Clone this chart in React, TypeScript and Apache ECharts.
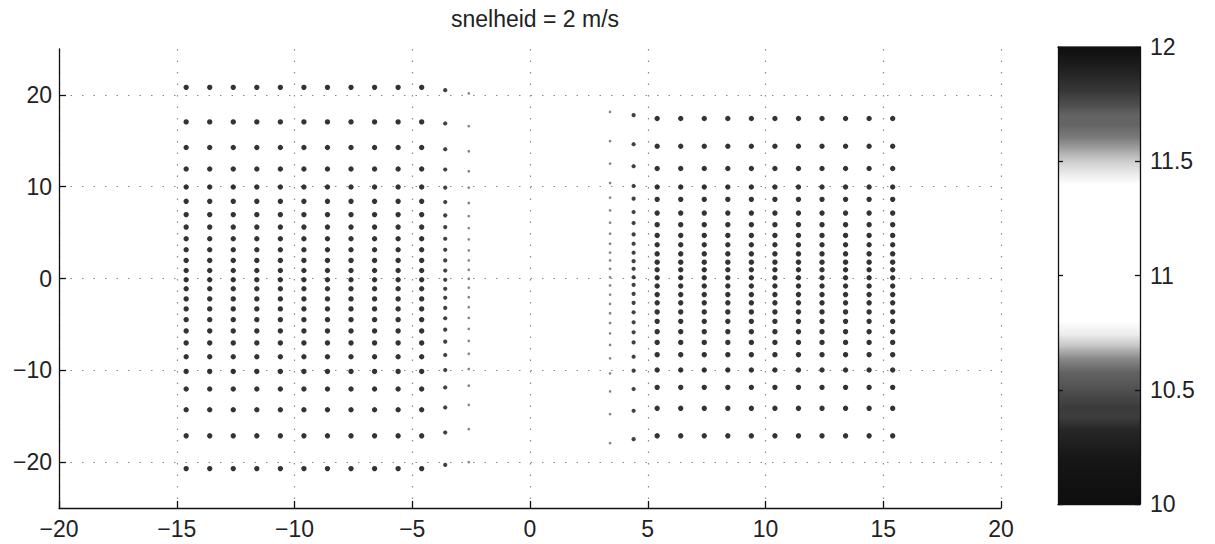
import React, { useEffect, useRef } from "react";
import * as echarts from "echarts";

const TITLE = "snelheid = 2 m/s";
const Y_TICKS = [-20, -10, 0, 10, 20];
const CB_TICKS = [10, 10.5, 11, 11.5, 12];

// left block
const LEFT_MAIN_X = [-14.6, -13.6, -12.6, -11.6, -10.6, -9.6, -8.6, -7.6, -6.6, -5.6, -4.6];
const LEFT_MAIN_Y = [20.82, 17.06, 14.27, 11.93, 9.97, 8.41, 6.96, 5.6, 4.33, 3.13, 1.97, 0.87, -0.14, -1.12, -2.22, -3.31, -4.48, -5.71, -7.02, -8.52, -10.12, -12.04, -14.3, -17.14, -20.71];
const LEFT_MID_X = -3.6;
const LEFT_MID_Y = [20.52, 16.89, 14.08, 11.87, 9.9, 8.33, 6.88, 5.6, 4.33, 3.13, 1.97, 0.87, -0.14, -1.12, -2.1, -3.2, -4.33, -5.57, -6.88, -8.33, -9.97, -11.87, -14.05, -16.78, -20.3];
const LEFT_EDGE_X = -2.6;
const LEFT_EDGE_Y = [20.16, 16.59, 13.86, 11.68, 9.9, 8.22, 6.8, 5.49, 4.26, 3.06, 1.97, 0.95, -0.03, -1.0, -2.04, -3.13, -4.29, -5.49, -6.8, -8.2, -9.86, -11.68, -13.76, -16.41, -20.0];

// right block
const RIGHT_MAIN_X = [5.4, 6.4, 7.4, 8.4, 9.4, 10.4, 11.4, 12.4, 13.4, 14.4, 15.4];
const RIGHT_MAIN_Y = [17.43, 14.41, 11.98, 9.97, 8.62, 7.13, 5.86, 4.69, 3.68, 2.69, 1.78, 0.95, 0.08, -0.82, -1.75, -2.65, -3.64, -4.67, -5.79, -6.96, -8.3, -9.97, -11.86, -14.14, -17.14];
const RIGHT_MID_X = 4.4;
const RIGHT_MID_Y = [17.79, 14.63, 12.23, 10.08, 8.7, 7.24, 6.04, 4.8, 3.79, 2.81, 1.89, 1.06, 0.14, -0.69, -1.67, -2.65, -3.68, -4.77, -5.86, -6.96, -8.52, -10.04, -12.04, -14.41, -17.5];
const RIGHT_EDGE_X = 3.4;
const RIGHT_EDGE_Y = [18.15, 14.96, 12.52, 10.4, 8.81, 7.42, 6.08, 4.88, 3.79, 2.81, 1.97, 1.06, 0.14, -0.76, -1.75, -2.76, -3.79, -4.85, -5.97, -7.24, -8.7, -10.34, -12.3, -14.77, -17.94];

// colour bar: [value, grey level]
const CB_VALUES = [10.0, 10.2, 10.33, 10.38, 10.42, 10.5, 10.58, 10.64, 10.69, 10.74, 10.8, 11.4, 11.45, 11.5, 11.55, 11.6, 11.66, 11.7, 11.74, 11.8, 11.9, 12.0];
const CB_GREYS = [14, 22, 40, 62, 58, 80, 100, 140, 195, 235, 255, 255, 232, 205, 165, 125, 100, 100, 80, 58, 32, 14];

const FONT = "'Liberation Sans', Arial, Helvetica, sans-serif";
const minus = (v: number | string) => String(v).replace("-", "\u2212");

function grid(xs: number[], ys: number[]) {
  const out: number[][] = [];
  xs.forEach((x) => ys.forEach((y) => out.push([x, y])));
  return out;
}

export default function App() {
  const ref = useRef<HTMLDivElement>(null);
  useEffect(() => {
    if (!ref.current) return;
    const chart = echarts.init(ref.current, null, { renderer: "svg" });

    const mainData = [...grid(LEFT_MAIN_X, LEFT_MAIN_Y), ...grid(RIGHT_MAIN_X, RIGHT_MAIN_Y)];
    const midData = [...grid([LEFT_MID_X], LEFT_MID_Y), ...grid([RIGHT_MID_X], RIGHT_MID_Y)];
    const edgeData = [...grid([LEFT_EDGE_X], LEFT_EDGE_Y), ...grid([RIGHT_EDGE_X], RIGHT_EDGE_Y)];
    const cbData = CB_VALUES.slice(0, -1).map((v, i) => [0.5, v, CB_VALUES[i + 1], CB_GREYS[i], CB_GREYS[i + 1]]);

    const axisLineStyle = { color: "#111", width: 1.3 };
    const dotted = { color: "#8a8a8a", width: 1.2, type: [1.5, 10] as any };
    const label = { fontSize: 23, color: "#222", fontFamily: FONT };

    const option: any = {
      animation: false,
      backgroundColor: "#fff",
      title: {
        text: TITLE,
        left: 530,
        textAlign: "center",
        top: 2,
        textStyle: { fontSize: 23, fontWeight: "normal", color: "#222", fontFamily: FONT },
      },
      grid: [
        { left: 59, top: 49, width: 942, height: 459 },
        { left: 1058, top: 47, width: 82, height: 457 },
      ],
      xAxis: [
        {
          gridIndex: 0,
          type: "value",
          min: -20,
          max: 20,
          interval: 5,
          axisLine: { show: true, onZero: false, lineStyle: axisLineStyle },
          axisTick: { show: true, inside: true, length: 7, lineStyle: axisLineStyle },
          axisLabel: { ...label, margin: 9, formatter: (v: number) => minus(v) },
          splitLine: { show: true, lineStyle: dotted },
        },
        {
          gridIndex: 1, type: "value", min: 0, max: 1, position: "bottom", z: 10,
          axisLine: { show: true, onZero: false, lineStyle: axisLineStyle },
          axisTick: { show: false }, axisLabel: { show: false }, splitLine: { show: false },
        },
        {
          gridIndex: 1, type: "value", min: 0, max: 1, position: "top", z: 10,
          axisLine: { show: true, onZero: false, lineStyle: axisLineStyle },
          axisTick: { show: false }, axisLabel: { show: false }, splitLine: { show: false },
        },
      ],
      yAxis: [
        {
          gridIndex: 0,
          type: "value",
          min: -25,
          max: 25,
          axisLine: { show: true, onZero: false, lineStyle: axisLineStyle },
          axisTick: { show: true, inside: true, length: 7, lineStyle: axisLineStyle, customValues: Y_TICKS },
          axisLabel: { ...label, margin: 7, customValues: Y_TICKS, formatter: (v: number) => minus(v) },
          splitLine: { show: true, lineStyle: dotted },
        },
        {
          gridIndex: 1, type: "value", min: 10, max: 12, interval: 0.5, position: "right", z: 10,
          axisLine: { show: true, onZero: false, lineStyle: axisLineStyle },
          axisTick: { show: true, inside: true, length: 5, lineStyle: axisLineStyle, customValues: CB_TICKS },
          axisLabel: { ...label, margin: 10, customValues: CB_TICKS },
          splitLine: { show: false },
        },
        {
          gridIndex: 1, type: "value", min: 10, max: 12, interval: 0.5, position: "left", z: 10,
          axisLine: { show: true, onZero: false, lineStyle: axisLineStyle },
          axisTick: { show: true, inside: true, length: 5, lineStyle: axisLineStyle, customValues: CB_TICKS },
          axisLabel: { show: false },
          splitLine: { show: false },
        },
      ],
      series: [
        {
          type: "scatter", xAxisIndex: 0, yAxisIndex: 0, data: mainData,
          symbolSize: 5.4, itemStyle: { color: "#000" }, z: 3,
        },
        {
          type: "scatter", xAxisIndex: 0, yAxisIndex: 0, data: midData,
          symbolSize: 4.2, itemStyle: { color: "#111" }, z: 3,
        },
        {
          type: "scatter", xAxisIndex: 0, yAxisIndex: 0, data: edgeData,
          symbolSize: 2.7, itemStyle: { color: "#666" }, z: 3,
        },
        {
          type: "custom", xAxisIndex: 1, yAxisIndex: 1, data: cbData,
          encode: { x: 0, y: [1, 2] },
          z: 1,
          renderItem: (_p: any, api: any) => {
            const v0 = api.value(1), v1 = api.value(2), g0 = api.value(3), g1 = api.value(4);
            const p0 = api.coord([0, v0]);
            const p1 = api.coord([1, v1]);
            const gs = (g: number) => `rgb(${g},${g},${g})`;
            return {
              type: "rect",
              shape: { x: p0[0], y: p1[1] - 0.5, width: p1[0] - p0[0], height: p0[1] - p1[1] + 1 },
              style: {
                fill: new echarts.graphic.LinearGradient(0, 0, 0, 1, [
                  { offset: 0, color: gs(g1) },
                  { offset: 1, color: gs(g0) },
                ]),
              },
            };
          },
        },
      ],
    };
    chart.setOption(option);
    return () => chart.dispose();
  }, []);
  return (
    <div
      ref={ref}
      style={{ position: "absolute", left: 0, top: 0, width: 1215, height: 544, background: "#fff" }}
    />
  );
}
